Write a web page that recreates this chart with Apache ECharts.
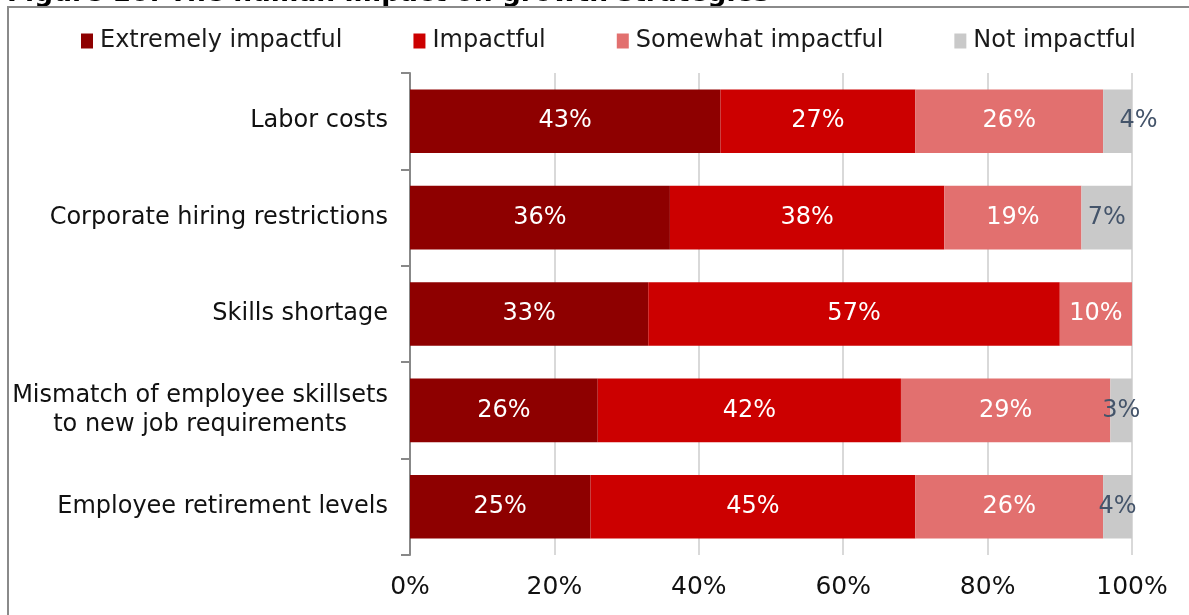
<!DOCTYPE html>
<html>
<head>
<meta charset="utf-8">
<script src="https://cdn.jsdelivr.net/npm/echarts@6/dist/echarts.min.js"></script>
<style>
  html, body { margin: 0; padding: 0; background: #fff; }
  #chart { width: 1189px; height: 615px; }
</style>
</head>
<body>
<div id="chart"></div>
<script>
// Survey: how impactful each human factor is on growth strategies (% of respondents)
const categories = [
  'Labor costs',
  'Corporate hiring restrictions',
  'Skills shortage',
  'Mismatch of employee skillsets\nto new job requirements',
  'Employee retirement levels'
];
const seriesNames = ['Extremely impactful', 'Impactful', 'Somewhat impactful', 'Not impactful'];
const extremely = [43, 36, 33, 26, 25];
const impactful = [27, 38, 57, 42, 45];
const somewhat  = [26, 19, 10, 29, 26];
const notImpact = [4, 7, 0, 3, 4];
const tickLabels = ['0%', '20%', '40%', '60%', '80%', '100%'];

const colors = ['#8E0000', '#CC0000', '#E2706F', '#C9C9C9'];
const labelColors = ['#ffffff', '#ffffff', '#ffffff', '#44546A'];
const FONT = 'DejaVu Sans';
const FS = 24;

const chart = echarts.init(document.getElementById('chart'), null, { renderer: 'canvas' });

function makeSeries(name, values, idx) {
  return {
    name: name,
    type: 'bar',
    stack: 'total',
    barCategoryGap: '34%',
    itemStyle: { color: colors[idx] },
    label: {
      show: true,
      position: 'inside',
      color: labelColors[idx],
      fontFamily: FONT,
      fontSize: FS,
      formatter: p => (p.value > 0 ? p.value + '%' : '')
    },
    data: values.map((v, i) => {
      // first row's small grey segment has its label nudged to the right
      if (idx === 3 && i === 0) {
        return { value: v, label: { offset: [21, 0] } };
      }
      return v;
    })
  };
}

chart.setOption({
  animation: false,
  color: colors,
  graphic: [
    {
      type: 'text',
      left: 7,
      top: -19,
      style: {
        text: 'Figure 10: The human impact on growth strategies',
        fontFamily: FONT,
        fontWeight: 'bold',
        fontSize: 26.5,
        fill: '#000'
      }
    },
    {
      type: 'rect',
      shape: { x: 8, y: 7, width: 1300, height: 700 },
      style: { fill: 'none', stroke: '#8a8a8a', lineWidth: 2 }
    }
  ],
  legend: {
    left: 81,
    top: 29,
    padding: 0,
    itemWidth: 12,
    itemHeight: 15,
    itemGap: 71,
    icon: 'rect',
    textStyle: { fontFamily: FONT, fontSize: FS, color: '#1a1a1a', padding: [0, 0, 0, 2] },
    data: seriesNames
  },
  grid: { left: 410, right: 57, top: 73, bottom: 60, containLabel: false },
  xAxis: {
    type: 'value',
    min: 0,
    max: 100,
    interval: 20,
    axisLine: { show: false },
    axisTick: { show: false },
    splitLine: { show: true, lineStyle: { color: '#D9D9D9', width: 2 } },
    axisLabel: {
      margin: 20,
      fontFamily: FONT,
      fontSize: 25,
      color: '#111',
      formatter: v => tickLabels[Math.round(v / 20)]
    }
  },
  yAxis: {
    type: 'category',
    inverse: true,
    data: categories,
    axisLine: { show: true, lineStyle: { color: '#888', width: 2 } },
    axisTick: { show: true, length: 9, lineStyle: { color: '#888', width: 2 } },
    axisLabel: {
      margin: 22,
      align: 'right',
      // each line of a wrapped label is centred within the label block
      formatter: v => v.split('\n').map(s => '{c|' + s + '}').join('\n'),
      rich: {
        c: {
          align: 'center',
          fontFamily: FONT,
          fontSize: FS,
          color: '#111',
          lineHeight: 29
        }
      }
    }
  },
  series: [
    makeSeries(seriesNames[0], extremely, 0),
    makeSeries(seriesNames[1], impactful, 1),
    makeSeries(seriesNames[2], somewhat, 2),
    makeSeries(seriesNames[3], notImpact, 3)
  ]
});
</script>
</body>
</html>
